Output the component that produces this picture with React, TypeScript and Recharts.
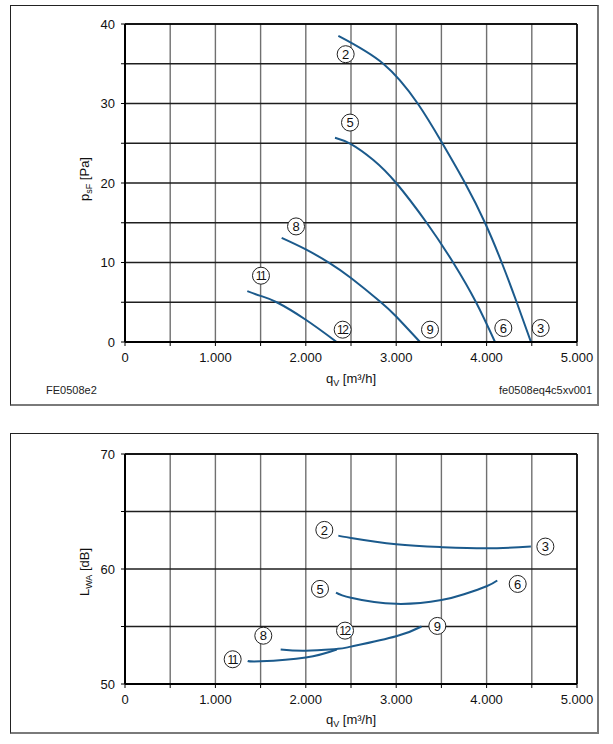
import { CartesianGrid, Line, LineChart, ReferenceDot, ReferenceLine, XAxis, YAxis } from "recharts";

type Point = { q: number; v: number };
type Tag = { q: number; v: number; text: string };

const flowTicks = [0, 500, 1000, 1500, 2000, 2500, 3000, 3500, 4000, 4500, 5000];
const pressureTicks = [0, 5, 10, 15, 20, 25, 30, 35, 40];
const soundTicks = [50, 55, 60, 65, 70];

// static pressure p_sF [Pa] over volume flow q_V [m³/h]
const pressure2to3: Point[] = [
  { q: 2360, v: 38.5 }, { q: 2857, v: 35 }, { q: 3238, v: 30 }, { q: 3510, v: 25 },
  { q: 3761, v: 20 }, { q: 3982, v: 15 }, { q: 4167, v: 10 }, { q: 4333, v: 5 },
  { q: 4491, v: 0 },
];
const pressure5to6: Point[] = [
  { q: 2323, v: 25.7 }, { q: 2500, v: 24.9 }, { q: 2747, v: 22.9 }, { q: 3000, v: 20 },
  { q: 3337, v: 15 }, { q: 3630, v: 10 }, { q: 3883, v: 5 }, { q: 4093, v: 0 },
];
const pressure8to9: Point[] = [
  { q: 1733, v: 13.1 }, { q: 2000, v: 11.65 }, { q: 2268, v: 9.9 }, { q: 2500, v: 8.05 },
  { q: 2821, v: 5.1 }, { q: 3000, v: 3.2 }, { q: 3263, v: 0 },
];
const pressure11to12: Point[] = [
  { q: 1353, v: 6.4 }, { q: 1500, v: 5.8 }, { q: 1678, v: 5 }, { q: 2000, v: 2.8 },
  { q: 2342, v: 0 },
];

// sound power level L_WA [dB]
const sound2to3: Point[] = [
  { q: 2360, v: 62.9 }, { q: 2500, v: 62.7 }, { q: 3000, v: 62.15 }, { q: 3500, v: 61.9 },
  { q: 4000, v: 61.8 }, { q: 4490, v: 61.95 },
];
const sound5to6: Point[] = [
  { q: 2334, v: 57.95 }, { q: 2500, v: 57.5 }, { q: 3000, v: 56.97 }, { q: 3500, v: 57.3 },
  { q: 3750, v: 57.8 }, { q: 4000, v: 58.5 }, { q: 4118, v: 59.0 },
];
const sound8to9: Point[] = [
  { q: 1722, v: 53.0 }, { q: 2000, v: 52.9 }, { q: 2342, v: 53.05 }, { q: 2500, v: 53.25 },
  { q: 3000, v: 54.15 }, { q: 3280, v: 55.0 },
];
const sound11to12: Point[] = [
  { q: 1357, v: 52.0 }, { q: 1500, v: 51.97 }, { q: 2000, v: 52.3 }, { q: 2342, v: 53.0 },
];

const pressureTags: Tag[] = [
  { q: 2441, v: 36.2, text: "2" }, { q: 4598, v: 1.76, text: "3" },
  { q: 2489, v: 27.6, text: "5" }, { q: 4185, v: 1.76, text: "6" },
  { q: 1892, v: 14.54, text: "8" }, { q: 3374, v: 1.55, text: "9" },
  { q: 1504, v: 8.34, text: "11" }, { q: 2408, v: 1.55, text: "12" },
];
const soundTags: Tag[] = [
  { q: 2205, v: 63.4, text: "2" }, { q: 4650, v: 61.95, text: "3" },
  { q: 2157, v: 58.27, text: "5" }, { q: 4344, v: 58.7, text: "6" },
  { q: 1530, v: 54.2, text: "8" }, { q: 3455, v: 55.05, text: "9" },
  { q: 1191, v: 52.15, text: "11" }, { q: 2434, v: 54.64, text: "12" },
];

const FONT = "'Liberation Sans', Arial, Helvetica, sans-serif";
const CURVE = "#1b5a8c";
const tickStyle = { fill: "#111", fontSize: 13, fontFamily: FONT };

const formatFlow = (v: number) => (v === 0 ? "0" : v % 1000 === 0 ? `${v / 1000}.000` : "");
const formatMajor = (v: number) => (v % 10 === 0 ? String(v) : "");

function CircledTag({ cx, cy, text }: { cx: number; cy: number; text: string }) {
  const wide = text.length > 1;
  return (
    <g>
      <circle cx={cx} cy={cy} r={8.5} fill="#fff" stroke="#222" strokeWidth={1} />
      <text
        x={cx + (wide ? -0.5 : 0)}
        y={cy}
        dy="0.36em"
        textAnchor="middle"
        fontFamily={FONT}
        fontSize={wide ? 12 : 13}
        letterSpacing={wide ? -1.5 : 0}
        fill="#111"
      >
        {text}
      </text>
    </g>
  );
}

type PanelProps = {
  height: number;
  top: number;
  axisHeight: number;
  yTicks: number[];
  yDomain: [number, number];
  curves: Point[][];
  tags: Tag[];
};

function Panel({ height, top, axisHeight, yTicks, yDomain, curves, tags }: PanelProps) {
  return (
    <LineChart width={613} height={height} margin={{ top, right: 36, bottom: 0, left: 0 }}>
      <CartesianGrid horizontal={false} stroke="#707070" strokeWidth={1.4} />
      <CartesianGrid vertical={false} stroke="#1e1e1e" strokeWidth={1.3} />
      <XAxis
        dataKey="q"
        type="number"
        domain={[0, 5000]}
        ticks={flowTicks}
        tickFormatter={formatFlow}
        tick={tickStyle}
        tickSize={4}
        tickMargin={7}
        height={axisHeight}
        axisLine={{ stroke: "#000", strokeWidth: 2 }}
        tickLine={{ stroke: "#000" }}
        allowDataOverflow
        interval={0}
      />
      <YAxis
        type="number"
        domain={yDomain}
        ticks={yTicks}
        tickFormatter={formatMajor}
        tick={tickStyle}
        tickSize={4}
        tickMargin={6}
        width={125}
        axisLine={{ stroke: "#000", strokeWidth: 2 }}
        tickLine={{ stroke: "#000" }}
        allowDataOverflow
        interval={0}
      />
      <ReferenceLine y={yDomain[1]} stroke="#000" strokeWidth={1.6} />
      <ReferenceLine x={5000} stroke="#000" strokeWidth={1.6} />
      {curves.map((data, i) => (
        <Line
          key={i}
          data={data}
          dataKey="v"
          type="natural"
          stroke={CURVE}
          strokeWidth={2}
          dot={false}
          activeDot={false}
          isAnimationActive={false}
        />
      ))}
      {tags.map((t) => (
        <ReferenceDot
          key={t.text}
          x={t.q}
          y={t.v}
          r={8}
          shape={(p: any) => <CircledTag cx={p.cx} cy={p.cy} text={t.text} />}
        />
      ))}
    </LineChart>
  );
}

const frame = (top: number, height: number): React.CSSProperties => ({
  position: "absolute",
  left: 10,
  top,
  width: 589,
  height,
  boxSizing: "border-box",
  borderTop: "1px solid #222",
  borderLeft: "1px solid #222",
  borderRight: "2px solid #7a7a7a",
  borderBottom: "2px solid #7a7a7a",
});

const text = (extra: React.CSSProperties): React.CSSProperties => ({
  position: "absolute",
  fontFamily: FONT,
  color: "#111",
  lineHeight: 1,
  whiteSpace: "nowrap",
  ...extra,
});

const sub: React.CSSProperties = { fontSize: 9, verticalAlign: "-3px" };

export default function App() {
  return (
    <div style={{ position: "absolute", left: 0, top: 0, width: 613, height: 744, background: "#fff" }}>
      <div style={frame(5, 401)} />
      <div style={frame(433, 301)} />

      <div style={{ position: "absolute", left: 0, top: 0 }}>
        <Panel
          height={410}
          top={24}
          axisHeight={68}
          yTicks={pressureTicks}
          yDomain={[0, 40]}
          curves={[pressure2to3, pressure5to6, pressure8to9, pressure11to12]}
          tags={pressureTags}
        />
      </div>
      <div style={{ position: "absolute", left: 0, top: 420 }}>
        <Panel
          height={320}
          top={34}
          axisHeight={56}
          yTicks={soundTicks}
          yDomain={[50, 70]}
          curves={[sound2to3, sound5to6, sound8to9, sound11to12]}
          tags={soundTags}
        />
      </div>

      {/* axis titles */}
      <div style={text({ left: 351, top: 380, fontSize: 13, transform: "translate(-50%, -50%)" })}>
        q<span style={sub}>V</span> [m³/h]
      </div>
      <div style={text({ left: 351, top: 721, fontSize: 13, transform: "translate(-50%, -50%)" })}>
        q<span style={sub}>V</span> [m³/h]
      </div>
      <div style={text({ left: 86, top: 179, fontSize: 13, transform: "translate(-50%, -50%) rotate(-90deg)" })}>
        p<span style={sub}>sF</span> [Pa]
      </div>
      <div style={text({ left: 86, top: 572, fontSize: 13, transform: "translate(-50%, -50%) rotate(-90deg)" })}>
        L<span style={sub}>WA</span> [dB]
      </div>

      <div style={text({ left: 46, top: 385, fontSize: 11, color: "#222" })}>FE0508e2</div>
      <div style={text({ right: 21, top: 385, fontSize: 11, color: "#222" })}>fe0508eq4c5xv001</div>
    </div>
  );
}
